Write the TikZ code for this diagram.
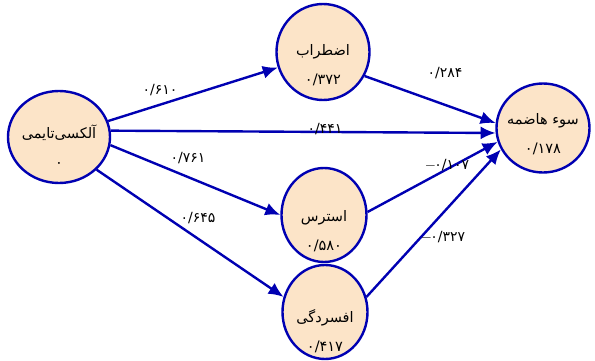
\documentclass[tikz,border=0pt]{standalone}
\usepackage{fontspec}
\TeXXeTstate=1
\newfontfamily\fa[Script=Arabic]{DejaVu Sans}
\usetikzlibrary{shapes.geometric,arrows.meta}
\definecolor{lineblue}{RGB}{0,0,178}
\definecolor{peach}{RGB}{252,228,200}
\tikzset{
 ell/.style={ellipse, draw=lineblue, fill=peach, line width=2.4pt, inner sep=0pt},
 txt/.style={font=\fa\fontsize{14.5}{29}\selectfont, align=center, inner sep=0pt},
 conn/.style={draw=lineblue, line width=2.4pt, -{Latex[length=15pt,width=13pt]}},
 val/.style={font=\fa\fontsize{14}{16}\selectfont, inner sep=1pt}
}
\begin{document}
\begin{tikzpicture}[x=1pt,y=1pt]
\useasboundingbox (0,0) rectangle (595,360);
\node[ell, minimum width=102pt, minimum height=92pt] (alex) at (59,223) {};
\node[ell, minimum width=93pt, minimum height=96pt] (anx) at (323,308) {};
\node[ell, minimum width=93pt, minimum height=89pt] (sou) at (543,232) {};
\node[ell, minimum width=85pt, minimum height=94pt] (str) at (324,145) {};
\node[ell, minimum width=85pt, minimum height=94pt] (dep) at (325,48) {};

\node[txt] (alexT) at (59,214) {\beginR آلکسی‌تایمی\endR\\۰};
\node[txt] (anxT) at (323,295) {\beginR اضطراب\endR\\۰/۳۷۲};
\node[txt] (souT) at (543,226) {\beginR سوء هاضمه\endR\\۰/۱۷۸};
\node[txt] (strT) at (324,129) {\beginR استرس\endR\\۰/۵۸۰};
\node[txt] (depT) at (325,29) {\beginR افسردگی\endR\\۰/۴۱۷};

\draw[conn] (alex.18) -- (anx.199);
\draw[conn] (alex.7) -- (sou.186);
\draw[conn] (alex.351) -- (str.180);
\draw[conn] (alex.319) -- (dep.160);
\draw[conn] (anx.330) -- (sou.174);
\draw[conn] (str.4) -- (sou.197);
\draw[conn] (dep.20) -- (sou.207);

\node[val] (v1) at (160,270) {۰/۶۱۰};
\node[val] (v2) at (325,231) {۰/۴۴۱};
\node[val] (v3) at (188,202) {۰/۷۶۱};
\node[val] (v4) at (198,142) {۰/۶۴۵};
\node[val] (v5) at (445,287) {۰/۲۸۴};
\node[val] (v6) at (447,195) {$-$\kern-1.5pt۰/۱۰۷};
\node[val] (v7) at (443,123) {$-$\kern-1.5pt۰/۳۲۷};
\end{tikzpicture}
\end{document}
